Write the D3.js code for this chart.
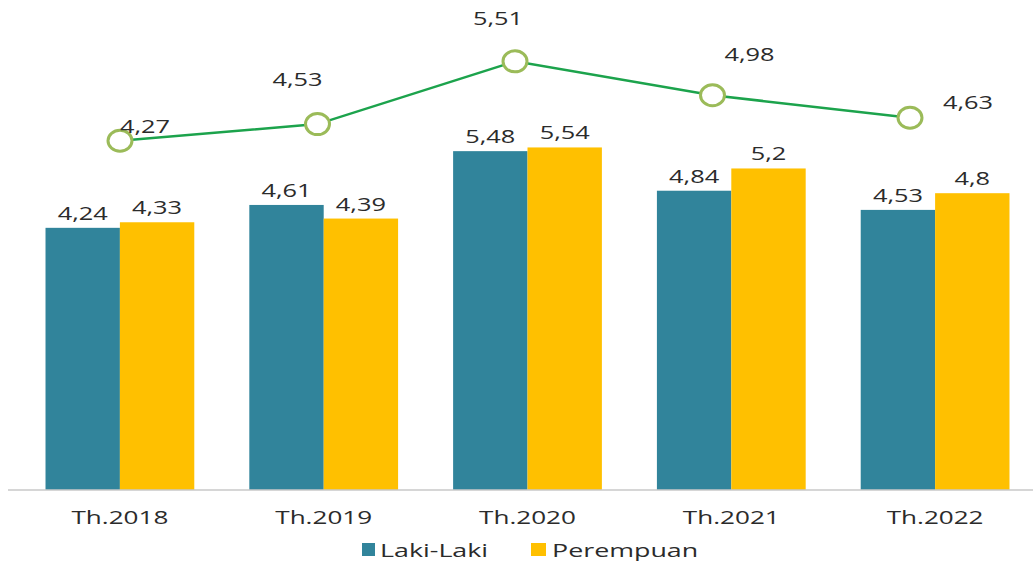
<!DOCTYPE html>
<html>
<head>
<meta charset="utf-8">
<script src="https://cdn.jsdelivr.net/npm/d3@7"></script>
<style>
  body { margin: 0; background: #fff; }
  text { font-family: "Open Sans", "Noto Sans", sans-serif; fill: #2b2b2b; }
</style>
</head>
<body>
<div id="chart"></div>
<script>
// data
const years = ["Th.2018", "Th.2019", "Th.2020", "Th.2021", "Th.2022"];
const seriesNames = ["Laki-Laki", "Perempuan"];
const lakiLaki = [4.24, 4.61, 5.48, 4.84, 4.53];
const perempuan = [4.33, 4.39, 5.54, 5.2, 4.8];
const total = [4.27, 4.53, 5.51, 4.98, 4.63];

// label nudges for the line labels (layout, not data)
const lineLabelDx = [25, -20, -17, 37, 58];
const lineLabelDy = [-14, -44, -42, -40, -15];

const width = 1033, height = 566;
const colors = ["#31849b", "#ffc000"];
const stretch = 1.45; // text in the source is wide

const fmt = v => String(v).replace(".", ",");

let svg = d3.select("#chart").append("svg")
    .attr("width", width)
    .attr("height", height);

/* Scales */
let x0 = d3.scaleBand()
    .domain(years)
    .range([18, 1037])
    .paddingInner(0.27)
    .paddingOuter(0.135);

let x1 = d3.scaleBand()
    .domain(seriesNames)
    .range([0, x0.bandwidth()]);

let y = d3.scaleLinear()
    .domain([0, 6])
    .range([490, 119]);

// secondary (hidden) axis for the line
let xLine = d3.scalePoint()
    .domain(years)
    .range([120, 910]);

let yLine = d3.scaleLinear()
    .domain([4, 6])
    .range([158, 30]);

function wideText(g, tx, ty, str, size, anchor) {
  g.append("g")
      .attr("transform", `translate(${tx},${ty})`)
      .append("text")
      .attr("transform", `scale(${stretch},1)`)
      .attr("text-anchor", anchor || "middle")
      .attr("font-size", size)
      .text(str);
}

/* Bars */
let rows = years.map((yr, i) => ({ year: yr, values: [lakiLaki[i], perempuan[i]] }));

let groups = svg.append("g").selectAll("g")
    .data(rows).enter()
    .append("g")
    .attr("transform", d => `translate(${x0(d.year)},0)`);

groups.selectAll("rect")
    .data(d => d.values.map((v, k) => ({ key: seriesNames[k], v: v, k: k })))
    .enter().append("rect")
    .attr("x", d => x1(d.key))
    .attr("y", d => y(d.v))
    .attr("width", x1.bandwidth())
    .attr("height", d => y(0) - y(d.v))
    .attr("fill", d => colors[d.k]);

groups.each(function(d) {
  let g = d3.select(this);
  d.values.forEach((v, k) => {
    wideText(g, x1(seriesNames[k]) + x1.bandwidth() / 2, y(v) - 8, fmt(v), 17.5);
  });
});

/* Axis */
svg.append("line")
    .attr("x1", 8).attr("x2", 1033)
    .attr("y1", y(0)).attr("y2", y(0))
    .attr("stroke", "#c8c8c8")
    .attr("stroke-width", 1.5);
years.forEach(yr => {
  wideText(svg, x0(yr) + x0.bandwidth() / 2, 524, yr, 18);
});

/* Line */
let line = d3.line()
    .x((d, i) => xLine(years[i]))
    .y(d => yLine(d));

svg.append("path")
    .datum(total)
    .attr("d", line)
    .attr("fill", "none")
    .attr("stroke", "#1ca34c")
    .attr("stroke-width", 2.5);

svg.append("g").selectAll("ellipse")
    .data(total).enter()
    .append("ellipse")
    .attr("cx", (d, i) => xLine(years[i]))
    .attr("cy", d => yLine(d))
    .attr("rx", 12)
    .attr("ry", 10.5)
    .attr("fill", "#fff")
    .attr("stroke", "#9bbb59")
    .attr("stroke-width", 3);

total.forEach((v, i) => {
  wideText(svg, xLine(years[i]) + lineLabelDx[i], yLine(v) + lineLabelDy[i] + 6, fmt(v), 17.5);
});

/* Legend */
let legend = svg.append("g");
legend.append("rect").attr("x", 362).attr("y", 543).attr("width", 13).attr("height", 13).attr("fill", colors[0]);
wideText(legend, 380, 557, seriesNames[0], 18.5, "start");
legend.append("rect").attr("x", 531).attr("y", 543).attr("width", 15).attr("height", 13).attr("fill", colors[1]);
wideText(legend, 552, 557, seriesNames[1], 18.5, "start");
</script>
</body>
</html>
